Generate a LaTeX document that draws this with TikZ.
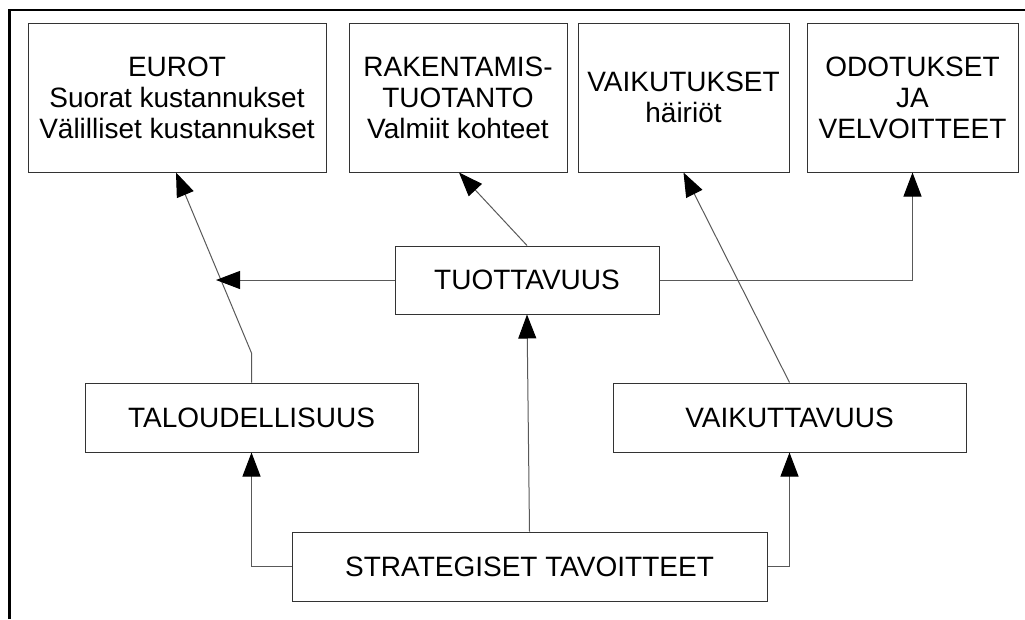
\documentclass[tikz,border=0pt]{standalone}
\usepackage{fontspec}
\setmainfont{Liberation Sans}
\usetikzlibrary{arrows.meta}
\begin{document}
\begin{tikzpicture}[x=1pt,y=-1pt,
  box/.style={draw=black!80, line width=1pt, inner sep=0pt, align=center,
    font=\fontsize{28}{31}\selectfont},
  arr/.style={draw=black!65, line width=1pt,
    -{Triangle[length=24pt,width=18pt,fill=black,color=black]}},
  frameline/.style={draw=black, line width=2.5pt}]
\useasboundingbox (0,0) rectangle (1025,619);
% outer frame (only top and left edges fall inside the page)
\draw[frameline] (9.5,619) -- (9.5,10) -- (1025,10);

% top row
\node[box, minimum width=298pt, minimum height=149pt] (eur) at (177,97.5)
  {EUROT\\Suorat kustannukset\\Välilliset kustannukset};
\node[box, minimum width=218pt, minimum height=149pt] (rak) at (458,97.5)
  {RAKENTAMIS-\\TUOTANTO\\Valmiit kohteet};
\node[box, minimum width=211pt, minimum height=149pt] (vks) at (683.5,97.5)
  {VAIKUTUKSET\\häiriöt};
\node[box, minimum width=211pt, minimum height=149pt] (odo) at (912.5,97.5)
  {ODOTUKSET\\JA\\VELVOITTEET};

% middle and lower rows
\node[box, minimum width=264pt, minimum height=68pt] (tuo) at (527,280) {TUOTTAVUUS};
\node[box, minimum width=333pt, minimum height=69pt] (tal) at (251.5,417.5) {TALOUDELLISUUS};
\node[box, minimum width=353pt, minimum height=69pt] (vkt) at (789.5,417.5) {VAIKUTTAVUUS};
\node[box, minimum width=475pt, minimum height=69pt] (str) at (529.5,566.5) {STRATEGISET TAVOITTEET};

% connectors
\coordinate (bend) at (251.5,353);
\coordinate (hit) at (216,280);
\draw[arr] (tal.north) -- (bend) -- ([xshift=-1pt]eur.south);
\draw[arr] (tuo.west) -- (hit);
\draw[arr] (tuo.north) -- ([xshift=1pt]rak.south);
\draw[arr] (tuo.east) -| (odo.south);
\draw[arr] (vkt.north) -- (vks.south);
\draw[arr] (str.west) -| (tal.south);
\draw[arr] (str.north) -- (tuo.south);
\draw[arr] (str.east) -| (vkt.south);
\end{tikzpicture}
\end{document}
